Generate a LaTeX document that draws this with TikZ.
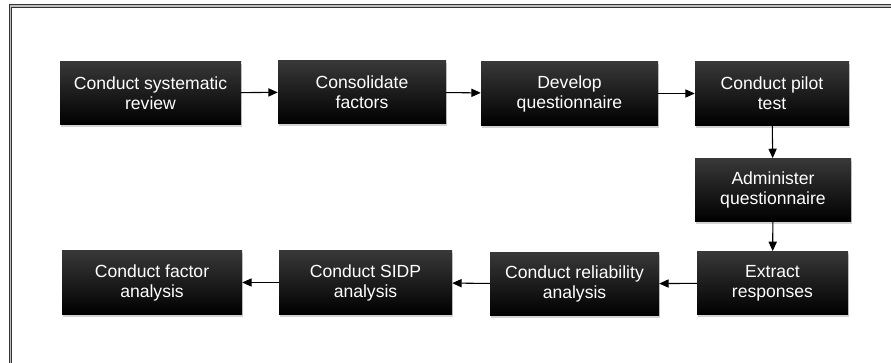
\documentclass[tikz,border=0pt]{standalone}
\usepackage{fontspec}
\setmainfont{Liberation Sans}
\usepackage{tikz}
\usetikzlibrary{arrows.meta,shadows}

\begin{document}
\begin{tikzpicture}[x=0.03cm, y=-0.03cm,
    stage/.style={rectangle, minimum width=#1*0.03cm, minimum height=1.9cm,
      top color=black!78, middle color=black, bottom color=black,
      drop shadow={shadow xshift=1pt, shadow yshift=-2pt, opacity=0.35},
      text=white, align=center, inner sep=2pt,
      font=\fontsize{15}{17}\selectfont},
    flow/.style={-{Triangle[length=8pt,width=7pt]}, line width=0.9pt, black}]

  \useasboundingbox (0,0) rectangle (891,363);

  % Frame (only top and left edges in view)
  \draw[line width=0.7pt, black!80, double=black!25, double distance=1.6pt]
    (891,6) -| (10.5,363);

  % Top row
  \node[stage=181] (review)  at (150.5,93) {Conduct systematic\\review};
  \node[stage=168] (consol)  at (362,92)   {Consolidate\\factors};
  \node[stage=177] (develop) at (569.5,93.5) {Develop\\questionnaire};
  \node[stage=154] (pilot)   at (772,93.5) {Conduct pilot\\test};

  % Right column
  \node[stage=156] (admin)   at (773,190)  {Administer\\questionnaire};

  % Bottom row
  \node[stage=151] (extract) at (772.5,283) {Extract\\responses};
  \node[stage=169] (reliab)  at (574.5,284) {Conduct reliability\\analysis};
  \node[stage=173] (sidp)    at (365.5,282.5) {Conduct SIDP\\analysis};
  \node[stage=180] (factor)  at (152,282.5) {Conduct factor\\analysis};

  % Connectors
  \draw[flow] (review) -- (consol);
  \draw[flow] (consol) -- (develop);
  \draw[flow] (develop) -- (pilot);
  \draw[flow] (pilot) -- (admin);
  \draw[flow] (admin) -- (extract);
  \draw[flow] (extract) -- (reliab);
  \draw[flow] (reliab) -- (sidp);
  \draw[flow] (sidp) -- (factor);

\end{tikzpicture}
\end{document}
